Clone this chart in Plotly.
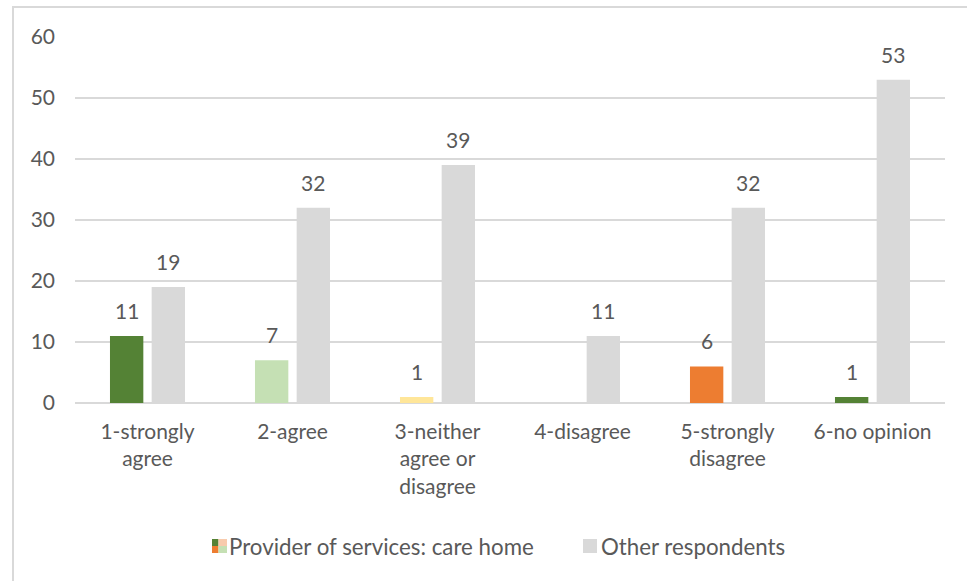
import plotly.graph_objects as go

# Survey responses by answer category
categories = [
    "1-strongly<br>agree",
    "2-agree",
    "3-neither<br>agree or<br>disagree",
    "4-disagree",
    "5-strongly<br>disagree",
    "6-no opinion",
]
care_home = [11, 7, 1, 0, 6, 1]
other_respondents = [19, 32, 39, 11, 32, 53]
care_home_colors = ["#548235", "#C5E0B4", "#FFE699", "#A9D18E", "#ED7D31", "#548235"]
series_names = ["Provider of services: care home", "Other respondents"]

GREY_TEXT = "#595959"
BAR_GREY = "#D9D9D9"
FONT = "Lato, 'Open Sans', sans-serif"
FS = 21
FS_LEGEND = 22.3

W, H = 967, 581
ML, MR, MT, MB = 75, 22, 37, 178
PW, PH = W - ML - MR, H - MT - MB


def px(x):
    return (x - ML) / PW


def py(y):
    return (H - MB - y) / PH


fig = go.Figure()
fig.add_trace(go.Bar(x=categories, y=care_home, name=series_names[0],
                     marker=dict(color=care_home_colors, line=dict(width=0)),
                     showlegend=False))
fig.add_trace(go.Bar(x=categories, y=other_respondents, name=series_names[1],
                     marker=dict(color=BAR_GREY, line=dict(width=0)),
                     showlegend=False))

# value labels above each bar (zero values are left unlabelled)
for series, shift in ((care_home, -20.8), (other_respondents, 20.8)):
    for cat, v in zip(categories, series):
        if v == 0:
            continue
        fig.add_annotation(x=cat, y=v, text=str(v), showarrow=False,
                           xshift=shift, yshift=11, yanchor="bottom",
                           font=dict(size=FS, color=GREY_TEXT, family=FONT))

shapes = []
# outer frame
shapes.append(dict(type="rect", xref="paper", yref="paper",
                   x0=px(13), x1=px(975), y0=py(590), y1=py(7),
                   line=dict(color="#D9D9D9", width=2), fillcolor="rgba(0,0,0,0)",
                   layer="below"))
# legend swatches
swatches = [
    (212, 218.5, 539, 546, "#548235"),
    (212, 218.5, 546, 553, "#ED7D31"),
    (218.5, 227, 539, 546, "#F8CBAD"),
    (218.5, 227, 546, 553, "#C5E0B4"),
    (583, 597, 539, 553, BAR_GREY),
]
for x0, x1, y0, y1, c in swatches:
    shapes.append(dict(type="rect", xref="paper", yref="paper",
                       x0=px(x0), x1=px(x1), y0=py(y1), y1=py(y0),
                       line=dict(width=0), fillcolor=c))

fig.add_annotation(xref="paper", yref="paper", x=px(227), y=py(546),
                   xanchor="left", yanchor="middle", showarrow=False,
                   text=series_names[0],
                   font=dict(size=FS_LEGEND, color=GREY_TEXT, family=FONT))
fig.add_annotation(xref="paper", yref="paper", x=px(599), y=py(546),
                   xanchor="left", yanchor="middle", showarrow=False,
                   text=series_names[1],
                   font=dict(size=FS_LEGEND, color=GREY_TEXT, family=FONT))

fig.update_layout(
    width=W, height=H,
    margin=dict(l=ML, r=MR, t=MT, b=MB),
    paper_bgcolor="white", plot_bgcolor="white",
    barmode="group", bargap=0.425, bargroupgap=0.2,
    shapes=shapes,
    font=dict(family=FONT, color=GREY_TEXT, size=FS),
    xaxis=dict(showgrid=False, showline=False, zeroline=False,
               tickfont=dict(size=FS, color=GREY_TEXT, family=FONT),
               ticklabelstandoff=14, fixedrange=True),
    yaxis=dict(range=[0, 60], dtick=10, showgrid=True, gridcolor="#D9D9D9",
               gridwidth=1.5, zeroline=True, zerolinecolor="#D9D9D9",
               zerolinewidth=1.5, showline=False,
               tickfont=dict(size=FS, color=GREY_TEXT, family=FONT),
               ticklabelstandoff=19, fixedrange=True),
)

fig.write_html("out.html")
